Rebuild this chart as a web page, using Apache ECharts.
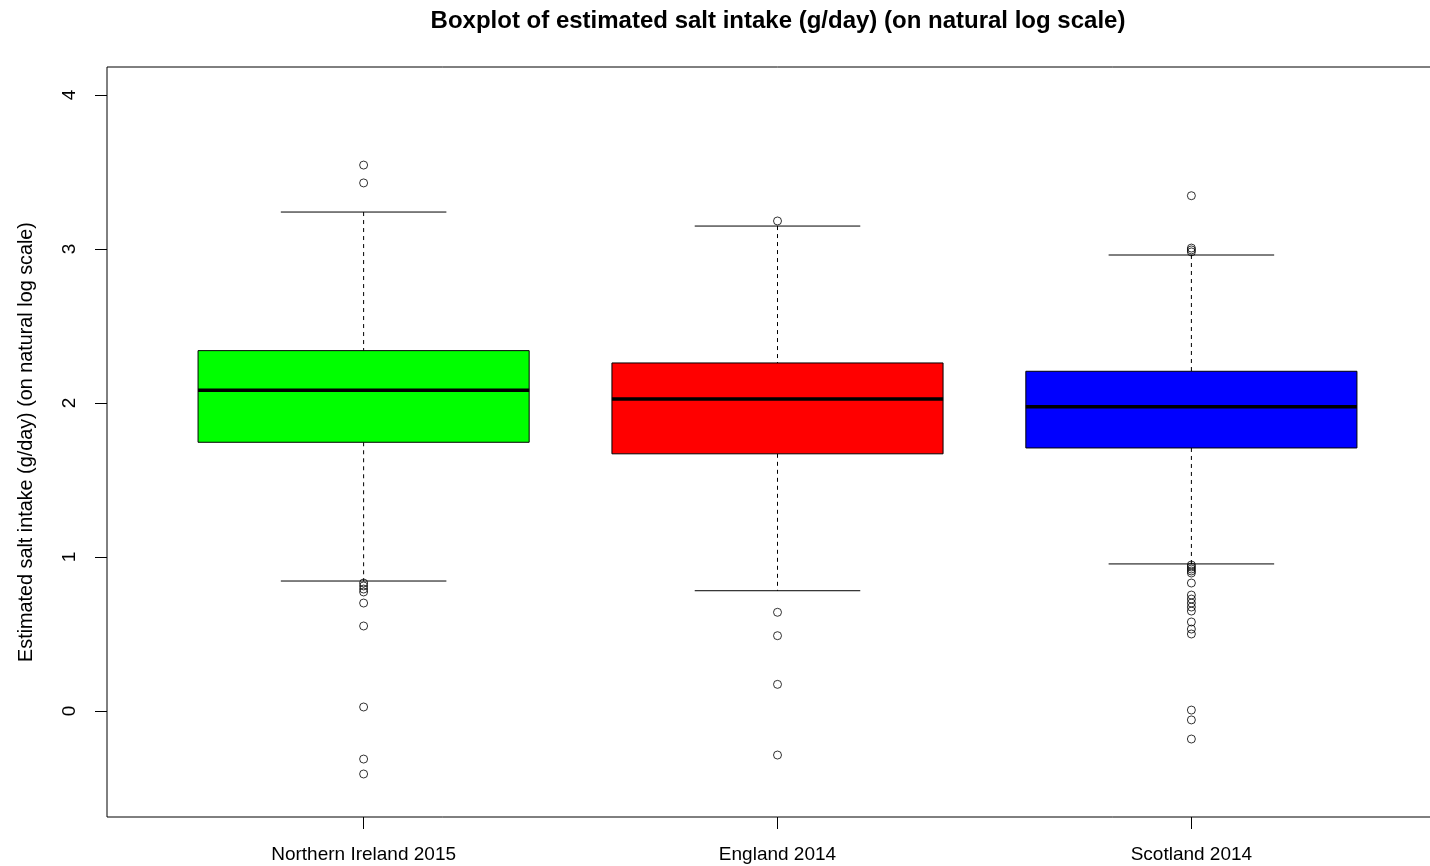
<!DOCTYPE html>
<html>
<head>
<meta charset="utf-8">
<script src="https://cdn.jsdelivr.net/npm/echarts@6/dist/echarts.min.js"></script>
<style>html,body{margin:0;padding:0;background:#fff;overflow:hidden;}#c{width:1450px;height:866px;}</style>
</head>
<body>
<div id="c"></div>
<script>
const categories = ['Northern Ireland 2015', 'England 2014', 'Scotland 2014'];
const boxColors = ['#00FF00', '#FF0000', '#0000FF'];
// [lower whisker, Q1, median, Q3, upper whisker]
const statsNI = [0.844, 1.745, 2.083, 2.340, 3.240];
const statsEN = [0.781, 1.670, 2.026, 2.260, 3.149];
const statsSC = [0.955, 1.708, 1.976, 2.206, 2.961];
const outliersNI = [3.545, 3.429, 0.831, 0.812, 0.792, 0.773, 0.701, 0.552, 0.026, -0.312, -0.409];
const outliersEN = [3.182, 0.641, 0.489, 0.173, -0.286];
const outliersSC = [3.346, 3.006, 2.994, 2.981, 0.948, 0.935, 0.922, 0.909, 0.896, 0.831, 0.753, 0.727, 0.701, 0.675, 0.649, 0.578, 0.532, 0.500, 0.006, -0.058, -0.182];
const yTicks = [0, 1, 2, 3, 4];
const xTicks = [1, 2, 3];

const allStats = [statsNI, statsEN, statsSC];
const allOutliers = [outliersNI, outliersEN, outliersSC];

const boxData = allStats.map((s, i) => [i + 1].concat(s));
const outlierData = [];
allOutliers.forEach((arr, i) => arr.forEach(v => outlierData.push([i + 1, v])));

const chart = echarts.init(document.getElementById('c'), null, {renderer: 'canvas'});

function renderBox(params, api) {
  const x = api.value(0);
  const lo = api.value(1), q1 = api.value(2), med = api.value(3), q3 = api.value(4), hi = api.value(5);
  const hw = 0.4, cw = 0.2;
  const pTL = api.coord([x - hw, q3]);
  const pBR = api.coord([x + hw, q1]);
  const pMedL = api.coord([x - hw, med]);
  const pMedR = api.coord([x + hw, med]);
  const pHi = api.coord([x, hi]);
  const pLo = api.coord([x, lo]);
  const pQ3 = api.coord([x, q3]);
  const pQ1 = api.coord([x, q1]);
  const capHiL = api.coord([x - cw, hi]);
  const capHiR = api.coord([x + cw, hi]);
  const capLoL = api.coord([x - cw, lo]);
  const capLoR = api.coord([x + cw, lo]);
  const color = boxColors[params.dataIndex];
  return {
    type: 'group',
    children: [
      {type: 'line', shape: {x1: pHi[0], y1: pHi[1], x2: pQ3[0], y2: pQ3[1]}, style: {stroke: '#000', lineWidth: 1, lineDash: [4, 4]}},
      {type: 'line', shape: {x1: pQ1[0], y1: pQ1[1], x2: pLo[0], y2: pLo[1]}, style: {stroke: '#000', lineWidth: 1, lineDash: [4, 4]}},
      {type: 'line', shape: {x1: capHiL[0], y1: capHiL[1], x2: capHiR[0], y2: capHiR[1]}, style: {stroke: '#000', lineWidth: 1}},
      {type: 'line', shape: {x1: capLoL[0], y1: capLoL[1], x2: capLoR[0], y2: capLoR[1]}, style: {stroke: '#000', lineWidth: 1}},
      {type: 'rect', shape: {x: pTL[0], y: pTL[1], width: pBR[0] - pTL[0], height: pBR[1] - pTL[1]}, style: {fill: color, stroke: '#000', lineWidth: 1}},
      {type: 'line', shape: {x1: pMedL[0], y1: pMedL[1], x2: pMedR[0], y2: pMedR[1]}, style: {stroke: '#000', lineWidth: 3.5}}
    ]
  };
}

const option = {
  backgroundColor: '#fff',
  animation: false,
  title: {
    text: 'Boxplot of estimated salt intake (g/day) (on natural log scale)',
    left: 773, top: 4, textAlign: 'center',
    textStyle: {fontFamily: 'Liberation Sans', fontWeight: 'bold', fontSize: 24, color: '#000'}
  },
  grid: {left: 107, right: 2, top: 67, bottom: 49, show: true, borderColor: '#000', borderWidth: 1, backgroundColor: 'transparent'},
  xAxis: {
    type: 'value', min: 0.38, max: 3.62,
    splitLine: {show: false},
    axisLine: {show: false, onZero: false},
    axisTick: {show: true, customValues: xTicks, length: 12, lineStyle: {color: '#000'}},
    axisLabel: {
      customValues: xTicks, margin: 28,
      formatter: v => categories[Math.round(v) - 1] || '',
      fontFamily: 'Liberation Sans', fontSize: 19, color: '#000'
    }
  },
  yAxis: {
    type: 'value', min: -0.6883, max: 4.1818,
    name: 'Estimated salt intake (g/day) (on natural log scale)',
    nameLocation: 'middle', nameGap: 70, nameRotate: 90,
    nameTextStyle: {fontFamily: 'Liberation Sans', fontSize: 19.8, color: '#000'},
    splitLine: {show: false},
    axisLine: {show: false, onZero: false},
    axisTick: {show: true, customValues: yTicks, length: 12, lineStyle: {color: '#000'}},
    axisLabel: {
      customValues: yTicks, rotate: 90, margin: 28,
      fontFamily: 'Liberation Sans', fontSize: 19, color: '#000'
    }
  },
  series: [
    {type: 'custom', renderItem: renderBox, data: boxData, encode: {x: 0, y: [1, 2, 3, 4, 5]}, z: 2},
    {type: 'scatter', data: outlierData, symbol: 'circle', symbolSize: 8,
     itemStyle: {color: 'transparent', borderColor: '#000', borderWidth: 1}, z: 3}
  ]
};
chart.setOption(option);
</script>
</body>
</html>
